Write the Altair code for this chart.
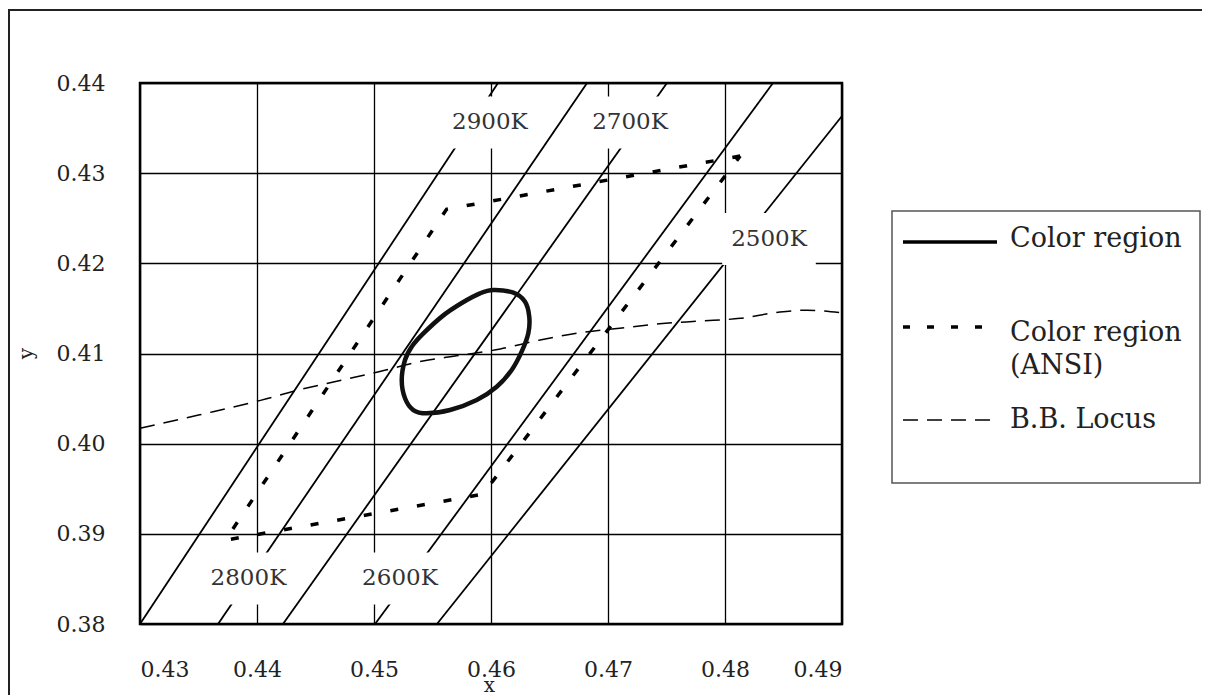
import altair as alt
import pandas as pd

# ---- data ----
x_ticks = [0.43, 0.44, 0.45, 0.46, 0.47, 0.48, 0.49]
y_ticks = [0.38, 0.39, 0.40, 0.41, 0.42, 0.43, 0.44]

# isotherm lines (start / end points)
iso_x0 = [0.4300, 0.43667, 0.44222, 0.45009, 0.45538]
iso_y0 = [0.3800, 0.3800, 0.3800, 0.3800, 0.3800]
iso_x1 = [0.4606, 0.46821, 0.47504, 0.48410, 0.4900]
iso_y1 = [0.4400, 0.4400, 0.4400, 0.4400, 0.43634]

# CCT labels
cct_text = ["2900K", "2700K", "2800K", "2600K", "2500K"]
cct_x = [0.45991, 0.47188, 0.43927, 0.45222, 0.48376]
cct_y = [0.43562, 0.43562, 0.38505, 0.38505, 0.42270]

# black-body locus
bb_x = [0.4300, 0.4351, 0.4403, 0.4437, 0.4471, 0.4505, 0.4539, 0.4574, 0.4608,
        0.4642, 0.4676, 0.4710, 0.4744, 0.4779, 0.4813, 0.4847, 0.4870, 0.4900]
bb_y = [0.4017, 0.4032, 0.4048, 0.4060, 0.4070, 0.4080, 0.4091, 0.4098, 0.4105,
        0.4115, 0.4123, 0.4128, 0.4133, 0.4136, 0.4139, 0.4146, 0.4148, 0.4145]

# ANSI quadrangle
ansi_x = [0.4813, 0.4562, 0.4373, 0.4593, 0.4813]
ansi_y = [0.4319, 0.4260, 0.3893, 0.3944, 0.4319]

# color region outline
ell_x = [0.45906, 0.46020, 0.46191, 0.46291, 0.46327, 0.46319, 0.46262, 0.46177,
         0.46049, 0.45878, 0.45650, 0.45450, 0.45336, 0.45265, 0.45237, 0.45265,
         0.45325, 0.45420, 0.45590, 0.45750]
ell_y = [0.41667, 0.41704, 0.41674, 0.41574, 0.41408, 0.41224, 0.41020, 0.40817,
         0.40632, 0.40484, 0.40373, 0.40337, 0.40373, 0.40503, 0.40706, 0.40928,
         0.41080, 0.41220, 0.41420, 0.41560]

legend_labels = ["Color region", "Color region", "(ANSI)", "B.B. Locus"]

# ---- tables ----
iso_df = pd.DataFrame({"x0": iso_x0, "y0": iso_y0, "x1": iso_x1, "y1": iso_y1})
lab_df = pd.DataFrame({"t": cct_text, "lx": cct_x, "ly": cct_y})
bb_df = pd.DataFrame({"x": bb_x, "y": bb_y, "i": range(len(bb_x))})
ansi_df = pd.DataFrame({"x": ansi_x, "y": ansi_y, "i": range(len(ansi_x))})
ell_df = pd.DataFrame({"x": ell_x, "y": ell_y, "i": range(len(ell_x))})
one = pd.DataFrame({"a": [0]})

FONT = "DejaVu Serif"
xs = alt.Scale(domain=[0.43, 0.49], nice=False, zero=False)
ys = alt.Scale(domain=[0.38, 0.44], nice=False, zero=False)

x_axis = alt.Axis(values=x_ticks, format=".2f", title="x", labelPadding=45,
                  labelBaseline="middle", titleX=349, titleY=67,
                  titleBaseline="alphabetic", titleAlign="center",
                  grid=True, gridColor="black", gridWidth=1.3, gridOpacity=1,
                  domain=False, ticks=False, tickSize=0)
y_axis = alt.Axis(values=y_ticks, format=".2f", title="y", labelPadding=35,
                  titleX=-114, titleY=270, titleAngle=270, titleAlign="center",
                  titleBaseline="middle",
                  grid=True, gridColor="black", gridWidth=1.3, gridOpacity=1,
                  domain=False, ticks=False, tickSize=0)


def X(f):
    return alt.X(f, scale=xs, axis=x_axis, title="x")


def Y(f):
    return alt.Y(f, scale=ys, axis=y_axis, title="y")


iso = alt.Chart(iso_df).mark_rule(color="black", strokeWidth=1.8).encode(
    x=X("x0:Q"), y=Y("y0:Q"), x2="x1:Q", y2="y1:Q",
)

boxes = alt.Chart(lab_df).transform_calculate(
    bx0="datum.lx - 0.0040", bx1="datum.lx + 0.0040",
    by0="datum.ly - 0.00288", by1="datum.ly + 0.00288",
).mark_rect(color="white").encode(
    x=X("bx0:Q"), x2="bx1:Q", y=Y("by0:Q"), y2="by1:Q",
)

labels = alt.Chart(lab_df).mark_text(font=FONT, fontSize=23, color="#333",
                                     align="center", baseline="middle").encode(
    x=X("lx:Q"), y=Y("ly:Q"), text="t:N",
)

locus = alt.Chart(bb_df).mark_line(color="black", strokeWidth=1.5, strokeDash=[15, 9],
                                   interpolate="monotone").encode(
    x=X("x:Q"), y=Y("y:Q"), order="i:Q",
)

ansi = alt.Chart(ansi_df).mark_line(color="black", strokeWidth=3.5, strokeDash=[8, 19]).encode(
    x=X("x:Q"), y=Y("y:Q"), order="i:Q",
)

ell = alt.Chart(ell_df).mark_line(color="#111", strokeWidth=4.5,
                                  interpolate="cardinal-closed").encode(
    x=X("x:Q"), y=Y("y:Q"), order="i:Q",
)

# ---- outer frame and legend (pixel decoration) ----
frame = alt.Chart(one).mark_rect(fillOpacity=0, stroke="#222", strokeWidth=2).encode(
    x=alt.value(-131), y=alt.value(-73), x2=alt.value(1300), y2=alt.value(700))

leg_box = alt.Chart(one).mark_rect(fill="white", stroke="#555", strokeWidth=1.5).encode(
    x=alt.value(752), y=alt.value(128), x2=alt.value(1060), y2=alt.value(400))

leg_solid = alt.Chart(one).mark_rule(color="black", strokeWidth=3.5).encode(
    x=alt.value(763), x2=alt.value(857), y=alt.value(159))
leg_dot = alt.Chart(one).mark_rule(color="black", strokeWidth=3.5, strokeDash=[7, 17]).encode(
    x=alt.value(763), x2=alt.value(857), y=alt.value(244))
leg_dash = alt.Chart(one).mark_rule(color="black", strokeWidth=1.5, strokeDash=[15, 9]).encode(
    x=alt.value(763), x2=alt.value(857), y=alt.value(337))


def leg_text(txt, ypix):
    return alt.Chart(one).mark_text(text=txt, font=FONT, fontSize=27, color="#222",
                                    align="left", baseline="alphabetic").encode(
        x=alt.value(870), y=alt.value(ypix))


leg_t1 = leg_text(legend_labels[0], 164)
leg_t2 = leg_text(legend_labels[1], 258)
leg_t3 = leg_text(legend_labels[2], 291)
leg_t4 = leg_text(legend_labels[3], 345)

chart = alt.layer(
    iso, boxes, labels, locus, ansi, ell,
    frame, leg_box, leg_solid, leg_dot, leg_dash, leg_t1, leg_t2, leg_t3, leg_t4,
).properties(
    width=702, height=541,
    padding={"left": 132, "top": 75, "right": 360, "bottom": 72},
    autosize=alt.AutoSizeParams(type="none"),
    background="white",
).configure_view(
    stroke="black", strokeWidth=2.5,
).configure_axis(
    labelFont=FONT, labelFontSize=22, labelColor="#222",
    titleFont=FONT, titleFontSize=20, titleFontWeight="normal", titleColor="#222",
)

chart.save("out.html", embed_options={"renderer": "svg", "actions": False})
